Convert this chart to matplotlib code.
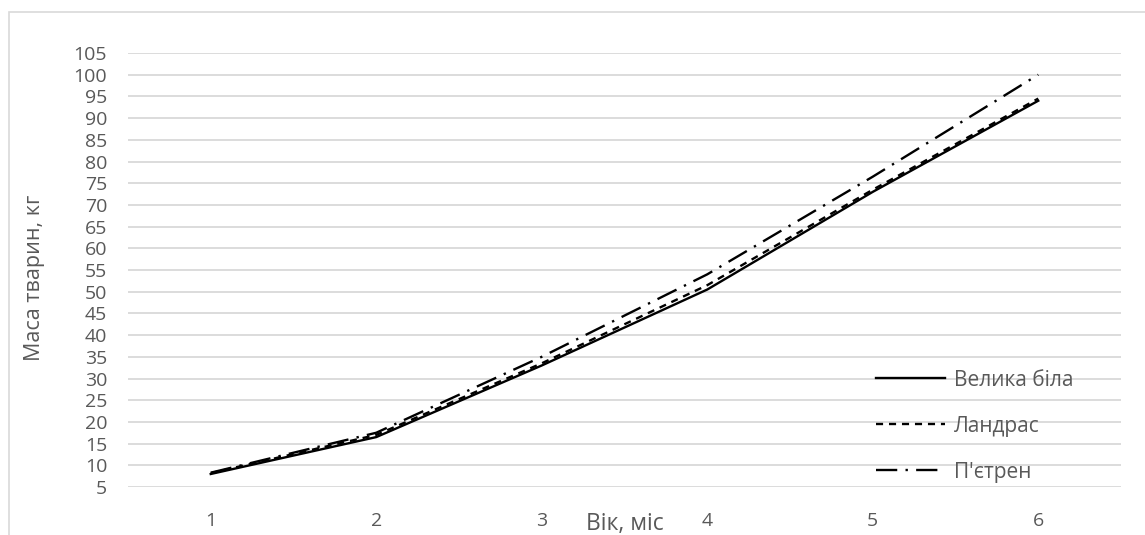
import matplotlib
matplotlib.use("Agg")
import matplotlib.pyplot as plt
from matplotlib.patches import Rectangle

plt.rcParams['font.family'] = ['Open Sans', 'DejaVu Sans']

# data
months = [1, 2, 3, 4, 5, 6]
velyka_bila = [8.0, 16.5, 33.0, 50.5, 73.0, 94.0]
landras = [8.2, 17.0, 33.5, 51.5, 73.5, 94.5]
pietren = [8.3, 17.5, 35.0, 54.0, 76.5, 100.0]
series_names = ["Велика біла", "Ландрас", "П'єтрен"]
y_ticks = list(range(5, 106, 5))

W, H = 1145, 535
fig = plt.figure(figsize=(W / 100, H / 100), dpi=100)
ax = fig.add_axes([128 / W, 1 - 487 / H, (1121 - 128) / W, (487 - 53) / H])

grey = "#595959"
ax.plot(months, velyka_bila, color="black", lw=1.7, ls="-", label=series_names[0])
ax.plot(months, landras, color="black", lw=1.7, ls=(0, (3, 2.5)), label=series_names[1])
ax.plot(months, pietren, color="black", lw=1.7, ls=(0, (9, 3.5, 1, 3.5)), label=series_names[2])

ax.set_xlim(0.5, 6.5)
ax.set_ylim(5, 105)
ax.set_yticks(y_ticks)
ax.set_xticks(months)
ax.yaxis.grid(True, color="#d9d9d9", lw=1.3)
ax.set_axisbelow(True)
for s in ax.spines.values():
    s.set_visible(False)
ax.tick_params(axis="both", length=0, labelsize=14, labelcolor=grey)
ax.tick_params(axis="y", pad=15)
ax.tick_params(axis="x", pad=18)

fig.text(35 / W, 1 - 278 / H, "Маса тварин, кг", rotation=90, ha="center", va="center",
         fontsize=15.5, color=grey)
fig.text(625 / W, 1 - 524 / H, "Вік, міс", ha="center", va="center", fontsize=16.5, color=grey)

leg = ax.legend(loc="upper left", bbox_to_anchor=(857 / W, 1 - 351 / H),
                bbox_transform=fig.transFigure, frameon=False, fontsize=15,
                handlelength=3.3, handletextpad=0.45, labelspacing=1.2)
for t in leg.get_texts():
    t.set_color(grey)

fig.patches.append(Rectangle((9 / W, -0.1), 1.2, 1 - 12 / H + 0.1, transform=fig.transFigure,
                             fill=False, edgecolor="#d9d9d9", lw=1.2))

fig.savefig("out.png", dpi=100)
